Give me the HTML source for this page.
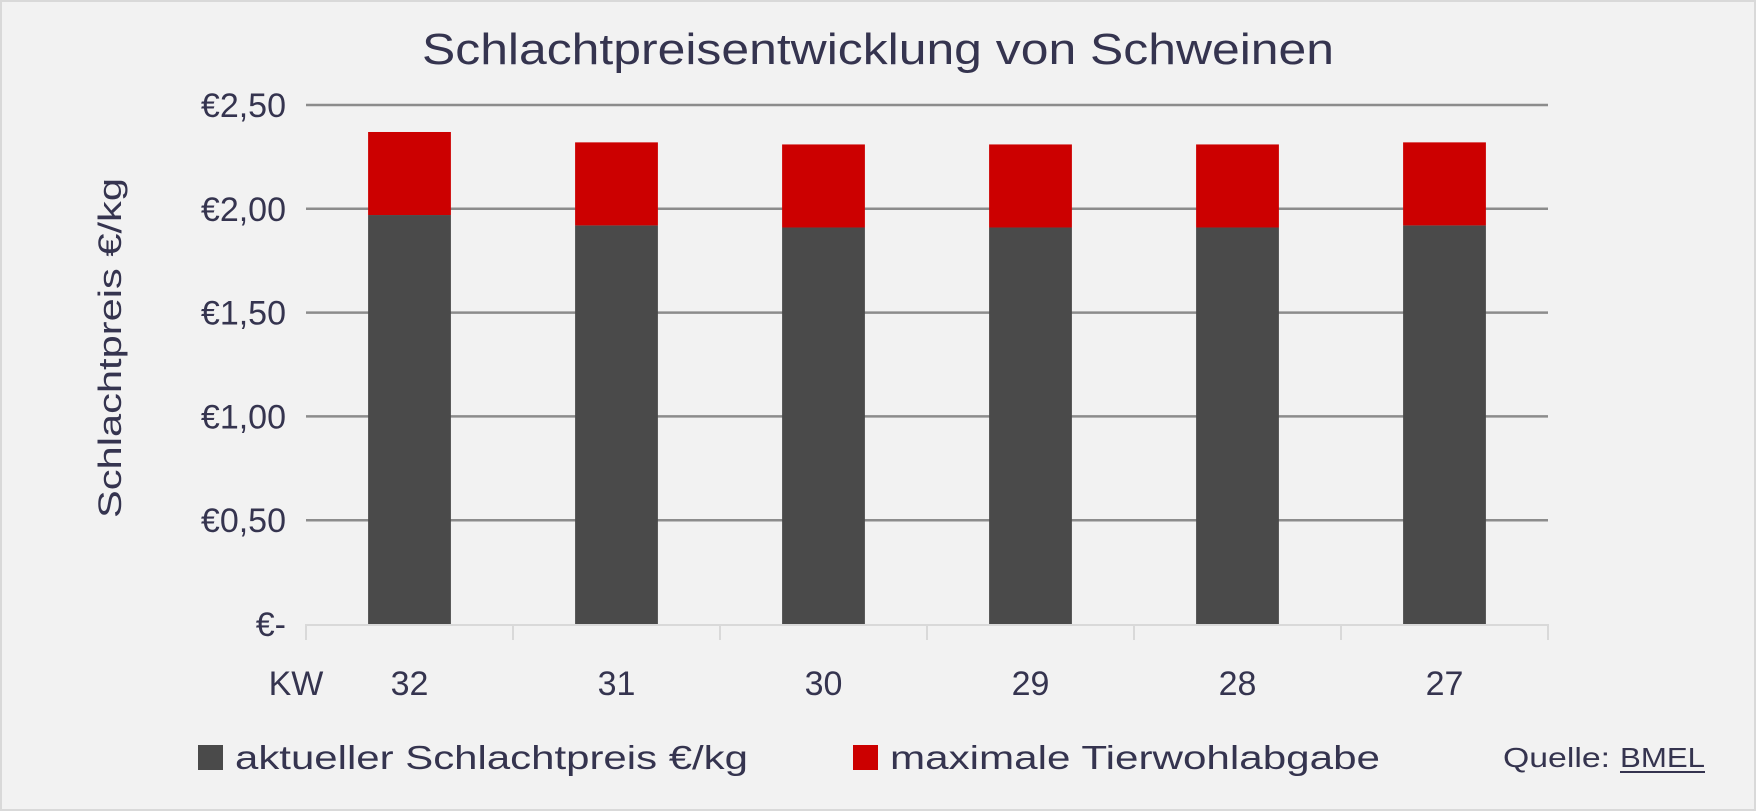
<!DOCTYPE html>
<html><head><meta charset="utf-8"><style>
html,body{margin:0;padding:0;background:#f2f2f2}
svg{display:block;font-family:"Liberation Sans",sans-serif}
</style></head><body>
<svg id="chart" width="1756" height="811" viewBox="0 0 1756 811">
<rect x="1" y="1" width="1754" height="809" fill="#f2f2f2" stroke="#d9d9d9" stroke-width="2"/>
<text x="878" y="64" text-anchor="middle" font-size="44" fill="#35344f" textLength="912" lengthAdjust="spacingAndGlyphs">Schlachtpreisentwicklung von Schweinen</text>
<g id="grid"></g><g id="bars"></g><g id="xaxis"></g>
<text transform="translate(121,348) rotate(-90)" text-anchor="middle" font-size="32" fill="#35344f" textLength="340" lengthAdjust="spacingAndGlyphs">Schlachtpreis €/kg</text>
<text x="296" y="695" text-anchor="middle" font-size="34" fill="#35344f">KW</text>
<g>
<rect x="198" y="745" width="25" height="25" fill="#4a4a4a"/>
<text x="235" y="769" font-size="33" fill="#35344f" textLength="513" lengthAdjust="spacingAndGlyphs">aktueller Schlachtpreis €/kg</text>
<rect x="853" y="745" width="25" height="25" fill="#cc0000"/>
<text x="890" y="769" font-size="33" fill="#35344f" textLength="490" lengthAdjust="spacingAndGlyphs">maximale Tierwohlabgabe</text>
</g>
<text x="1503" y="767" font-size="28" fill="#35344f" textLength="107" lengthAdjust="spacingAndGlyphs">Quelle:</text>
<text x="1620" y="767" font-size="28" fill="#35344f" textLength="85" lengthAdjust="spacingAndGlyphs">BMEL</text>
<line x1="1620" y1="772" x2="1705" y2="772" stroke="#35344f" stroke-width="2"/>
</svg>
<script>
const categories=["32","31","30","29","28","27"];
const priceValues=[1.97,1.92,1.91,1.91,1.91,1.92];
const levyValues=[0.40,0.40,0.40,0.40,0.40,0.40];
const yTicks=[0,0.5,1,1.5,2,2.5];
const yTickLabels=["€-","€0,50","€1,00","€1,50","€2,00","€2,50"];
const NS="http://www.w3.org/2000/svg";
const x0=306,x1=1548,y0=624,yTop=105,yMax=2.5;
const yS=v=>y0-(v/yMax)*(y0-yTop);
const band=(x1-x0)/categories.length;
const xS=i=>x0+band*i+band/2;
function mk(t,a,p){const e=document.createElementNS(NS,t);for(const k in a)e.setAttribute(k,a[k]);p.appendChild(e);return e;}
const grid=document.getElementById('grid');
yTicks.forEach((v,i)=>{
  if(v>0){const l=mk('line',{x1:x0,x2:x1,y1:yS(v),y2:yS(v),stroke:'#8c8c8c','stroke-width':2.5},grid);
  
  }
  const t=mk('text',{x:286,y:yS(v)+12,'text-anchor':'end','font-size':34,fill:'#35344f'},grid);
  t.textContent=yTickLabels[i];
  
  
});
const bars=document.getElementById('bars');
const bw=band*0.4;
categories.forEach((c,i)=>{
  const p=mk('rect',{x:xS(i)-bw/2,y:yS(priceValues[i]),width:bw,height:y0-yS(priceValues[i]),fill:'#4a4a4a'},bars);
  
  
  const top=priceValues[i]+levyValues[i];
  const r=mk('rect',{x:xS(i)-bw/2,y:yS(top),width:bw,height:yS(priceValues[i])-yS(top),fill:'#cc0000'},bars);
  
  
});
const xa=document.getElementById('xaxis');
const ax=mk('line',{x1:x0,x2:x1,y1:y0+1,y2:y0+1,stroke:'#d9d9d9','stroke-width':2},xa);


for(let i=0;i<=categories.length;i++){
  const tk=mk('line',{x1:x0+band*i,x2:x0+band*i,y1:y0,y2:y0+16,stroke:'#d9d9d9','stroke-width':2},xa);
  
  
}
categories.forEach((c,i)=>{
  const t=mk('text',{x:xS(i),y:695,'text-anchor':'middle','font-size':34,fill:'#35344f'},xa);
  t.textContent=c;
  
  
});
</script>
</body></html>
